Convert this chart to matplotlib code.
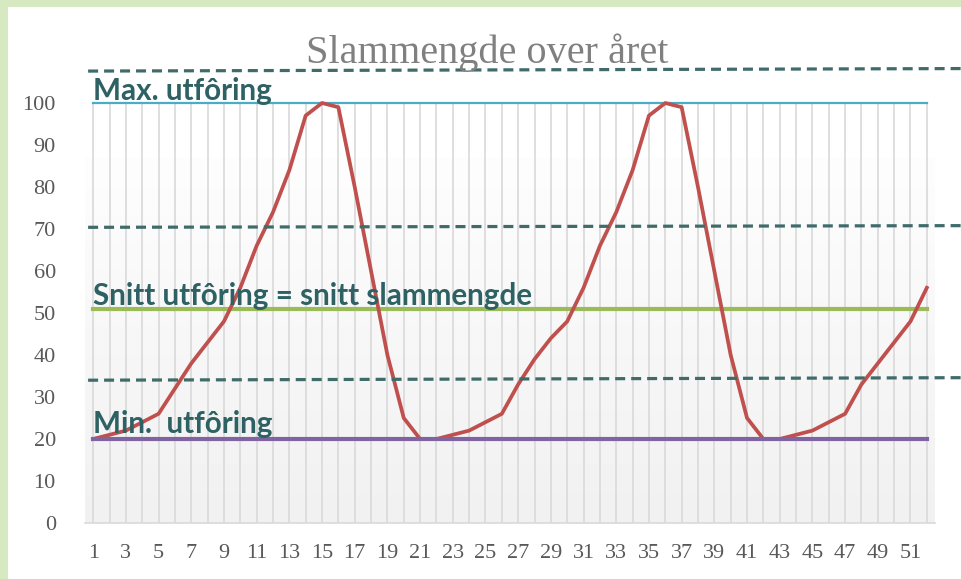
import numpy as np
import matplotlib.pyplot as plt
from matplotlib.colors import LinearSegmentedColormap
from matplotlib.patches import Rectangle

plt.rcParams['lines.scale_dashes'] = False

weeks = list(range(1, 53))
slam = [20, 21, 22, 24, 26, 32, 38, 43, 48, 56,
        66, 74, 84, 97, 100, 99, 80, 60, 40, 25,
        20, 20, 21, 22, 24, 26, 33, 39, 44, 48,
        56, 66, 74, 84, 97, 100, 99, 80, 60, 40,
        25, 20, 20, 21, 22, 24, 26, 33, 38, 43,
        48, 56]

max_level = 100
avg_level = 51
min_level = 20

# hand-drawn dashed guide lines (left y, right y)
guides = [(107.6, 108.2), (70.4, 70.8), (34.0, 34.6)]

labels = ["Max. utfôring", "Snitt utfôring = snitt slammengde", "Min.  utfôring"]
label_y = [100.7, 51.9, 21.4]

W, H = 961, 579
fig = plt.figure(figsize=(W / 100, H / 100), dpi=100)
fig.patch.set_facecolor('#d7e9c1')
fig.add_artist(Rectangle((8 / W, 0), 1, 1 - 7 / H, transform=fig.transFigure,
                         facecolor='white', edgecolor='none', zorder=0))

ax = fig.add_axes([85 / W, 1 - 523 / H, 850 / W, 420 / H])
ax.set_facecolor('none')

# background gradient
cmap = LinearSegmentedColormap.from_list('bg', ['#f1f1f1', '#fefefe'])
grad = np.linspace(0, 1, 200).reshape(-1, 1)
ax.imshow(grad, extent=(0.5, 52.5, 0, 87), origin='lower', cmap=cmap,
          aspect='auto', zorder=0)

ax.vlines(weeks, 0, 100, color='#d9d9d9', lw=1.2, zorder=1)

ax.plot([1, 52], [max_level] * 2, color='#4bacc6', lw=1.6, zorder=3, clip_on=False)
ax.plot([1, 52], [avg_level] * 2, color='#9bbb59', lw=3.0, zorder=3)
ax.plot(weeks, slam, color='#c0504d', lw=2.7, zorder=4, clip_on=False)
ax.plot([1, 52], [min_level] * 2, color='#8064a2', lw=3.0, zorder=5)

for y0, y1 in guides:
    ax.plot([0.69, 54.15], [y0, y1], color='#3f6b6a', lw=2.3, dashes=(7.2, 4.3),
            zorder=6, clip_on=False)

for txt, y in zip(labels, label_y):
    ax.text(1, y, txt, fontsize=21.3, fontweight='bold', family='Lato',
            color='#2d6163', ha='left', va='baseline', zorder=7)

ax.set_xlim(0.5, 52.5)
ax.set_ylim(0, 100)
ax.set_xticks(weeks[::2])
ax.set_xticklabels([str(w) for w in weeks[::2]])
ax.set_yticks(range(0, 101, 10))
for lab in ax.get_xticklabels() + ax.get_yticklabels():
    lab.set_family('Liberation Serif')
    lab.set_fontsize(16)
    lab.set_color('#595959')
ax.tick_params(axis='both', length=0)
ax.tick_params(axis='x', pad=15)
ax.tick_params(axis='y', pad=21)

for s in ['top', 'right', 'left']:
    ax.spines[s].set_visible(False)
ax.spines['bottom'].set_color('#d9d9d9')
ax.spines['bottom'].set_linewidth(1.2)

fig.text(487 / W, 1 - 63 / H, 'Slammengde over året', family='Liberation Serif',
         fontsize=29, color='#808080', ha='center', va='baseline')

fig.savefig('out.png', dpi=100)
